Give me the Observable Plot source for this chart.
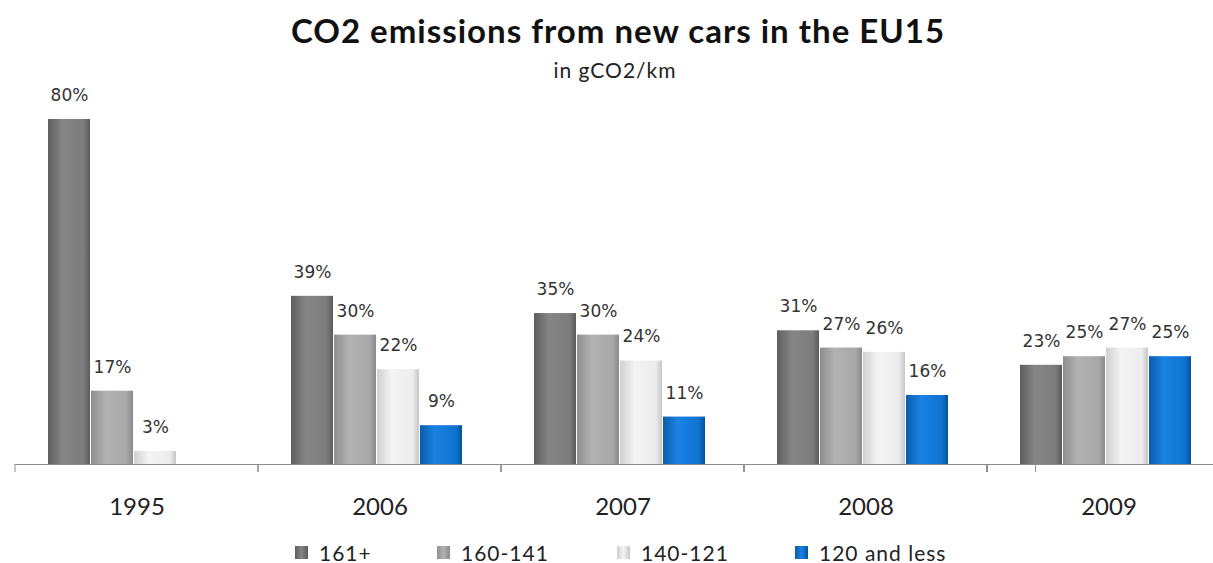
<!DOCTYPE html>
<html>
<head>
<meta charset="utf-8">
<script src="https://cdn.jsdelivr.net/npm/d3@7"></script>
<script src="https://cdn.jsdelivr.net/npm/@observablehq/plot@0.6"></script>
<style>
  html, body { margin: 0; padding: 0; background: #fff; overflow: hidden; }
  #wrap { position: relative; width: 1213px; height: 563px; overflow: hidden; }
  #title { position: absolute; left: 0; width: 1236px; top: 14px; text-align: center; line-height: 1;
    font-family: Lato, "Open Sans", sans-serif; font-weight: 700; font-size: 33px; letter-spacing: 1px; color: #111; white-space: nowrap; }
  #subtitle { position: absolute; left: 0; width: 1230px; top: 59px; text-align: center; line-height: 1;
    font-family: Lato, "Open Sans", sans-serif; font-weight: 400; font-size: 21px; letter-spacing: 1px; color: #222; }
  #chart { position: absolute; left: 0; top: 80px; width: 1230px; }
  #chart svg { max-width: none !important; }
  #legend { position: absolute; top: 538px; left: 0; width: 1213px; height: 28px;
    font-family: Lato, "Open Sans", sans-serif; font-size: 21px; letter-spacing: 1px; color: #222; }
  .item { position: absolute; top: 0; height: 28px; display: flex; align-items: center; white-space: nowrap; }
  .sw { width: 13px; height: 13px; margin-right: 11px; flex: none; }
</style>
</head>
<body>
<div id="wrap">
  <div id="title">CO2 emissions from new cars in the EU15</div>
  <div id="subtitle">in gCO2/km</div>
  <div id="chart"></div>
  <div id="legend"></div>
</div>
<script>
// ---- data ----
const years = ["1995", "2006", "2007", "2008", "2009"];
const categories = ["161+", "160-141", "140-121", "120 and less"];
const s161 = [80, 39, 35, 31, 23];
const s160_141 = [17, 30, 30, 27, 25];
const s140_121 = [3, 22, 24, 26, 27];
const s120 = [null, 9, 11, 16, 25];

const seriesList = [s161, s160_141, s140_121, s120];
const data = years.flatMap((year, i) =>
  categories.map((cat, c) => ({ year, cat, ci: c, value: seriesList[c][i] }))
).filter(d => d.value != null);

// gradient stops per category (left -> right bevel look)
const gradStops = [
  ["#5e5e5e", "#858585", "#7c7c7c", "#5a5a5a"],
  ["#8e8e8e", "#b2b2b2", "#a8a8a8", "#8a8a8a"],
  ["#cfcfcf", "#f4f4f4", "#ececec", "#c6c6c6"],
  ["#0a5cae", "#1a82e2", "#0f73d0", "#07529a"]
];

const svgNS = "http://www.w3.org/2000/svg";
function defsMark() {
  const g = document.createElementNS(svgNS, "g");
  const defs = document.createElementNS(svgNS, "defs");
  gradStops.forEach((stops, k) => {
    const lg = document.createElementNS(svgNS, "linearGradient");
    lg.setAttribute("id", "grad" + k);
    lg.setAttribute("x1", "0"); lg.setAttribute("x2", "1");
    lg.setAttribute("y1", "0"); lg.setAttribute("y2", "0");
    const offs = [0, 0.35, 0.85, 1];
    stops.forEach((c, j) => {
      const s = document.createElementNS(svgNS, "stop");
      s.setAttribute("offset", offs[j]);
      s.setAttribute("stop-color", c);
      lg.appendChild(s);
    });
    defs.appendChild(lg);
  });
  g.appendChild(defs);
  return g;
}

function boundaryTicks(index, scales, values, dimensions) {
  const { width, marginLeft, marginRight } = dimensions;
  const y0 = scales.y(0);
  const g = document.createElementNS(svgNS, "g");
  const n = years.length;
  const step = (width - marginLeft - marginRight) / n;
  for (let i = 0; i <= n; i++) {
    const x = (scales.fx ? (i < n ? scales.fx(years[i]) : scales.fx(years[n - 1]) + step) : marginLeft + i * step);
    const l = document.createElementNS(svgNS, "line");
    l.setAttribute("x1", x); l.setAttribute("x2", x);
    l.setAttribute("y1", y0); l.setAttribute("y2", y0 + 8);
    l.setAttribute("stroke", "#8c8c8c");
    g.appendChild(l);
  }
  return g;
}

const chart = Plot.plot({
  width: 1230,
  height: 444,
  marginLeft: 15,
  marginRight: 0,
  marginTop: 39,
  marginBottom: 60,
  style: { fontFamily: "Lato, 'Open Sans', sans-serif", fontSize: "24px", color: "#222", background: "transparent" },
  fx: { domain: years, padding: 0, label: null, tickSize: 0, tickPadding: 33 },
  x: { domain: categories, axis: null, paddingInner: 0.03, paddingOuter: 0.8, align: 0.45 },
  y: { domain: [0, 80], axis: null },
  color: { type: "identity" },
  marks: [
    defsMark,
    Plot.barY(data, { fx: "year", x: "cat", y: "value", fill: d => `url(#grad${d.ci})`, inset: 0 }),
    Plot.ruleY([0], { stroke: "#8c8c8c", strokeWidth: 1 }),
    boundaryTicks,
    Plot.text(data, { fx: "year", x: "cat", y: "value", text: d => d.value + "%",
      dy: -24, lineAnchor: "middle", fontFamily: "'DejaVu Sans', sans-serif", fontSize: 17, fill: "#333" })
  ]
});
document.getElementById("chart").appendChild(chart);

// legend
const legendLeft = [295, 437, 617, 795];
const legend = document.getElementById("legend");
categories.forEach((cat, k) => {
  const it = document.createElement("div");
  it.className = "item";
  it.style.left = legendLeft[k] + "px";
  const sw = document.createElement("div");
  sw.className = "sw";
  sw.style.background = `linear-gradient(to right, ${gradStops[k][0]}, ${gradStops[k][1]}, ${gradStops[k][3]})`;
  const tx = document.createElement("span");
  tx.textContent = cat;
  it.appendChild(sw); it.appendChild(tx);
  legend.appendChild(it);
});
</script>
</body>
</html>
